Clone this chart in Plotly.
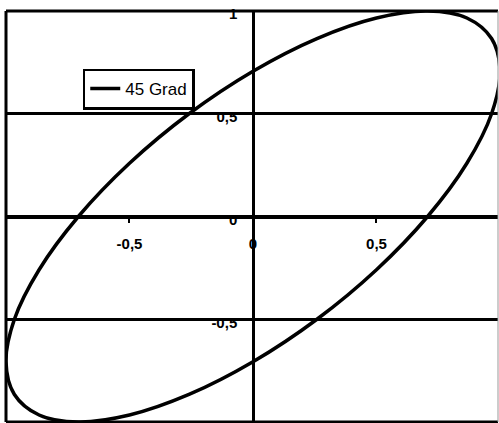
import plotly.graph_objects as go

# Lissajous curve, 45 degree phase shift, sampled every 15 degrees
x_vals = [0.0, 0.259, 0.5, 0.707, 0.866, 0.966, 1.0, 0.966, 0.866, 0.707, 0.5, 0.259, 0.0,
          -0.259, -0.5, -0.707, -0.866, -0.966, -1.0, -0.966, -0.866, -0.707, -0.5, -0.259, 0.0]
y_vals = [0.707, 0.866, 0.966, 1.0, 0.966, 0.866, 0.707, 0.5, 0.259, 0.0, -0.259, -0.5, -0.707,
          -0.866, -0.966, -1.0, -0.966, -0.866, -0.707, -0.5, -0.259, 0.0, 0.259, 0.5, 0.707]
series_name = "45 Grad"

tick_vals = [-1, -0.5, 0, 0.5, 1]
tick_text = ["-1", "-0,5", "0", "0,5", "1"]

x_range = [-1, 0.992]
y_range = [-1, 1]

fig = go.Figure()
fig.add_trace(go.Scatter(
    x=x_vals, y=y_vals, mode="lines", name=series_name,
    line=dict(color="black", width=3.5, shape="spline", smoothing=1),
    showlegend=True,
))

axis_font = dict(family="Liberation Sans, Arial, sans-serif", size=15, color="black", weight="bold")

fig.update_layout(
    width=499, height=423,
    margin=dict(l=6, r=1, t=11, b=1),
    paper_bgcolor="white", plot_bgcolor="white",
    separators=",.",
    showlegend=True,
    legend=dict(
        x=0.156, y=0.86, xanchor="left", yanchor="top",
        bgcolor="white", bordercolor="black", borderwidth=2.5,
        font=dict(family="Liberation Sans, Arial, sans-serif", size=17, color="black"),
        itemwidth=30, tracegroupgap=0,
    ),
    xaxis=dict(
        range=x_range, autorange=False,
        anchor="free", position=(0 - y_range[0]) / (y_range[1] - y_range[0]),
        showline=True, linecolor="black", linewidth=2.5,
        showgrid=False, zeroline=False,
        tickvals=tick_vals, ticktext=tick_text,
        ticks="outside", ticklen=5, tickwidth=2, tickcolor="black",
        ticklabelstandoff=8,
        tickfont=axis_font,
    ),
    yaxis=dict(
        range=y_range, autorange=False,
        anchor="free", position=(0 - x_range[0]) / (x_range[1] - x_range[0]),
        showline=True, linecolor="black", linewidth=2.5,
        showgrid=True, gridcolor="black", gridwidth=2.5,
        zeroline=False,
        tickvals=tick_vals, ticktext=tick_text,
        ticks="outside", ticklen=4, tickwidth=2, tickcolor="black",
        ticklabelstandoff=8, ticklabelshift=3,
        tickfont=axis_font,
    ),
    shapes=[
        dict(type="line", xref="paper", yref="paper", x0=0, x1=0, y0=0, y1=1,
             line=dict(color="black", width=3)),
        dict(type="line", xref="paper", yref="paper", x0=0, x1=1, y0=1, y1=1,
             line=dict(color="black", width=3)),
        dict(type="line", xref="paper", yref="paper", x0=0, x1=1, y0=0, y1=0,
             line=dict(color="black", width=3)),
        dict(type="line", xref="paper", yref="paper", x0=1, x1=1, y0=0, y1=1,
             line=dict(color="#999999", width=1)),
    ],
)

fig.write_html("out.html")
